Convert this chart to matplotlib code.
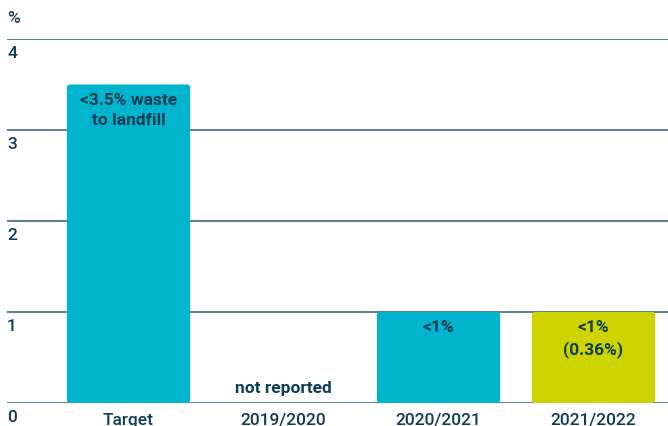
import matplotlib
matplotlib.use("Agg")
import matplotlib.pyplot as plt
from matplotlib.patches import FancyBboxPatch

categories = ["Target", "2019/2020", "2020/2021", "2021/2022"]
values = [3.5, 0.0, 1.0, 1.0]
bar_labels = ["<3.5% waste\nto landfill", "not reported", "<1%", "<1%\n(0.36%)"]
colors = ["#00B4CE", "#00B4CE", "#00B4CE", "#CDD400"]
yticks = [0, 1, 2, 3, 4]

TXT = "#0F3D52"
GRID = "#5F7F8C"
plt.rcParams['font.family'] = ['Roboto', 'DejaVu Sans']

W, H = 668, 427
fig = plt.figure(figsize=(W/100, H/100), dpi=100)
ax = fig.add_axes([7/W, (H-404)/H, 1-7/W, (404-40)/H])
x = list(range(len(categories)))
bars = ax.bar(x, values, width=0.795, color=colors, zorder=3)
for r in bars:
    r.set_visible(False)
    if r.get_height() > 0:
        ax.add_patch(FancyBboxPatch((r.get_x(), r.get_y()), r.get_width(), r.get_height(),
                                    boxstyle="round,pad=0,rounding_size=0.02",
                                    mutation_aspect=1.7, fc=r.get_facecolor(), ec='none', zorder=3))
ax.set_xlim((7-128.5)/155, (668-128.5)/155)
ax.set_ylim(0, 4)
for t in yticks:
    ax.axhline(t, color=GRID, lw=1.4, zorder=2)
    ax.text(0.0, t - 0.065, str(t), transform=ax.get_yaxis_transform(), ha='left', va='top',
            fontsize=12.5, fontweight='medium', color=TXT, clip_on=False)
ax.text(0.0, 4.24, "%", transform=ax.get_yaxis_transform(), ha='left', va='center',
        fontsize=12.5, fontweight='medium', color=TXT, clip_on=False)
for xi, c in zip(x, categories):
    ax.text(xi, -0.185, c, ha='center', va='center', fontsize=12.5, fontweight='medium',
            color=TXT, clip_on=False)
for xi, v, lab in zip(x, values, bar_labels):
    if v > 0:
        ax.text(xi, v - 0.08, lab, ha='center', va='top', fontsize=12.5, fontweight='bold',
                color=TXT, linespacing=1.45, zorder=4)
    else:
        ax.text(xi, 0.165, lab, ha='center', va='center', fontsize=12.5, fontweight='bold',
                color=TXT, zorder=4)
ax.axis('off')
fig.savefig("out.png", dpi=100)
